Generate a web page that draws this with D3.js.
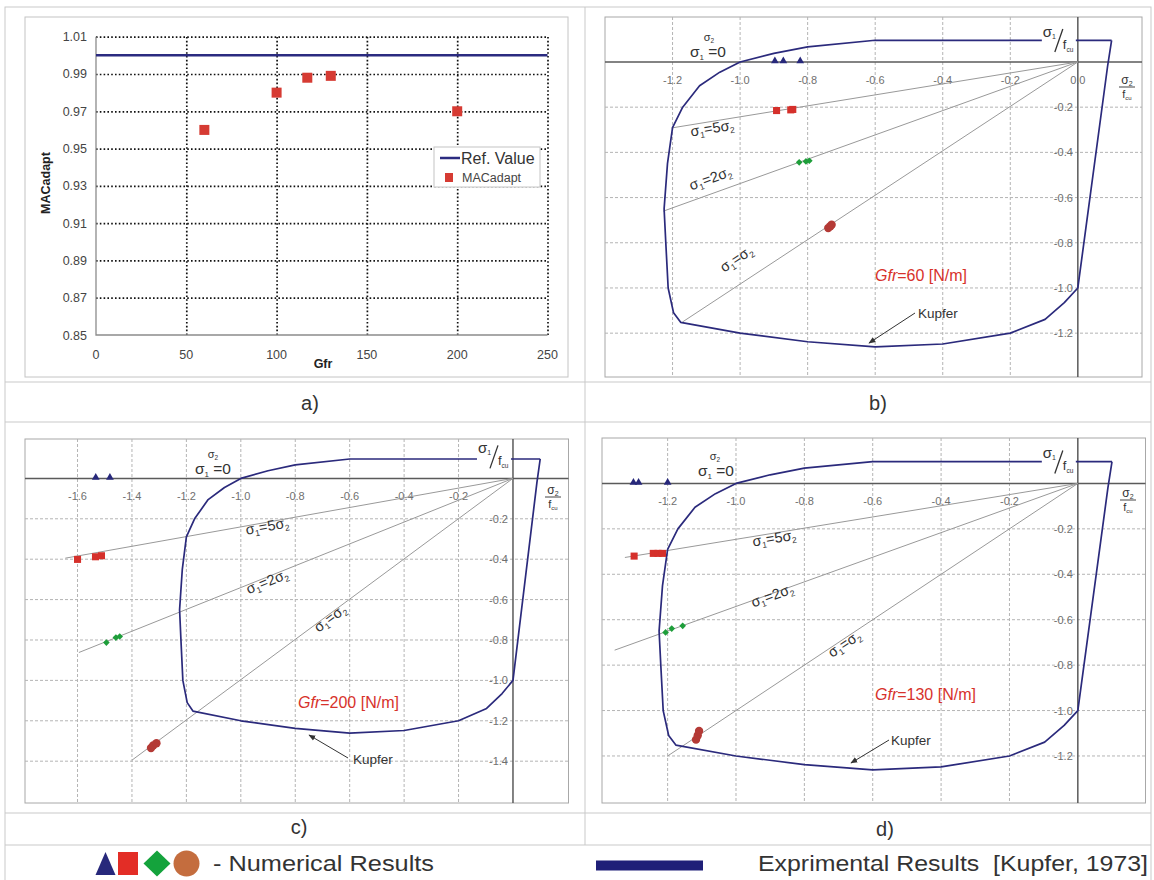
<!DOCTYPE html>
<html>
<head>
<meta charset="utf-8">
<title>MACadapt vs Gfr and Kupfer envelopes</title>
<script src="https://cdnjs.cloudflare.com/ajax/libs/d3/7.8.5/d3.min.js"></script>
<style>
    body { margin: 0; background: #fff; }
    svg { display: block; font-family: "Liberation Sans", Arial, sans-serif; }
    .grid-a line { stroke: #111; stroke-width: 1.7; stroke-dasharray: 1.6,2.2; }
    .grid-k line { stroke: #b4b4b4; stroke-width: 1; stroke-dasharray: 3,2; }
    .tick-a { font-size: 12.5px; fill: #444; }
    .tick-k { font-size: 11px; fill: #6f6f6f; }
    .lbl { fill: #333; }
</style>
</head>
<body>
<svg id="fig" width="1154" height="880"></svg>
<script>
// ---- panel a) data
const gfr = [60, 100, 117, 130, 200];
const macAdapt = [0.960, 0.980, 0.988, 0.989, 0.970];
const refValue = 1.0;
const gfrTicks = [0, 50, 100, 150, 200, 250];
const macTicks = [0.85, 0.87, 0.89, 0.91, 0.93, 0.95, 0.97, 0.99, 1.01];

// ---- Kupfer envelope, [sigma2/fcu, sigma1/fcu]
const kupfer = [
    [0.100, 0.096], [-0.600, 0.096], [-0.800, 0.067], [-0.900, 0.038], [-1.000, 0.000],
    [-1.060, -0.045], [-1.120, -0.105], [-1.170, -0.200], [-1.200, -0.290], [-1.215, -0.450],
    [-1.225, -0.650], [-1.220, -0.800], [-1.213, -1.000], [-1.197, -1.110], [-1.176, -1.152],
    [-1.000, -1.200], [-0.800, -1.238], [-0.600, -1.261], [-0.400, -1.248], [-0.200, -1.200],
    [-0.097, -1.139], [-0.040, -1.065], [0.000, -1.000], [0.088, -0.020], [0.100, 0.096]
];

// ---- numerical results, [sigma2/fcu, sigma1/fcu]
const tri60 = [[-0.897, 0.0], [-0.872, 0.0], [-0.822, 0.0]];
const sq60 = [[-0.892, -0.215], [-0.850, -0.212], [-0.844, -0.210]];
const dia60 = [[-0.825, -0.444], [-0.805, -0.440], [-0.795, -0.437]];
const circ60 = [[-0.739, -0.735], [-0.733, -0.727], [-0.729, -0.720]];
const rays60 = [[-1.203, -0.292], [-1.227, -0.660], [-1.170, -1.150]];

const tri200 = [[-1.533, 0.0], [-1.481, 0.0]];
const sq200 = [[-1.600, -0.401], [-1.534, -0.388], [-1.512, -0.383]];
const dia200 = [[-1.494, -0.813], [-1.459, -0.788], [-1.445, -0.783]];
const circ200 = [[-1.330, -1.335], [-1.322, -1.322], [-1.310, -1.311]];
const rays200 = [[-1.645, -0.395], [-1.595, -0.862], [-1.400, -1.395]];

const tri130 = [[-1.300, 0.0], [-1.285, 0.0], [-1.200, 0.0]];
const sq130 = [[-1.298, -0.320], [-1.242, -0.308], [-1.228, -0.308], [-1.215, -0.308]];
const dia130 = [[-1.206, -0.656], [-1.188, -0.639], [-1.156, -0.627]];
const circ130 = [[-1.117, -1.128], [-1.112, -1.110], [-1.108, -1.090]];
const rays130 = [[-1.325, -0.326], [-1.355, -0.734], [-1.200, -1.200]];

const xTicksB = [-1.2, -1.0, -0.8, -0.6, -0.4, -0.2, 0.0];
const xTicksC = [-1.6, -1.4, -1.2, -1.0, -0.8, -0.6, -0.4, -0.2];
const xTicksD = [-1.2, -1.0, -0.8, -0.6, -0.4, -0.2];
const yTicksB = [-0.2, -0.4, -0.6, -0.8, -1.0, -1.2];
const yTicksC = [-0.2, -0.4, -0.6, -0.8, -1.0, -1.2, -1.4];

const rayNames = [
    [["σ"], ["1", 1], ["=5σ"], ["2", 1]],
    [["σ"], ["1", 1], ["=2σ"], ["2", 1]],
    [["σ"], ["1", 1], ["=σ"], ["2", 1]]
];

const navy = "#27287b", red = "#d5302b", green = "#1e9e3a", brown = "#b43a36";

const svg = d3.select("#fig");

// text with subscripts
function rich(text, parts, subSize, shift) {
    let cur = 0;
    parts.forEach(([t, sub]) => {
        const target = sub ? shift : 0;
        const ts = text.append("tspan").text(t).attr("dy", target - cur);
        if (sub) ts.attr("font-size", subSize);
        cur = target;
    });
}

svg.append("defs").append("marker")
    .attr("id", "arr").attr("viewBox", "0 0 10 10")
    .attr("refX", 9).attr("refY", 5)
    .attr("markerWidth", 7).attr("markerHeight", 7)
    .attr("orient", "auto")
    .append("path").attr("d", "M0,1 L10,5 L0,9 z").attr("fill", "#333");

// ---- table frame
const frame = svg.append("g").attr("stroke", "#c9c9c9").attr("fill", "none");
frame.append("rect").attr("x", 5).attr("y", 7).attr("width", 1146).attr("height", 900);
[382, 422, 813, 845].forEach(y =>
    frame.append("line").attr("x1", 5).attr("x2", 1151).attr("y1", y).attr("y2", y));
frame.append("line").attr("x1", 585).attr("x2", 585).attr("y1", 7).attr("y2", 845);

[["a)", 310, 410], ["b)", 878, 410], ["c)", 299, 834], ["d)", 885, 836]].forEach(([t, x, y]) =>
    svg.append("text").attr("x", x).attr("y", y).attr("text-anchor", "middle")
        .attr("font-size", 20).attr("fill", "#333").text(t));

// ================= panel a
(function () {
    const g = svg.append("g");
    g.append("rect").attr("x", 25).attr("y", 17).attr("width", 543).attr("height", 360)
        .attr("fill", "#fff").attr("stroke", "#c4c4c4");

    const x = d3.scaleLinear().domain([0, 250]).range([96, 547.5]);
    const y = d3.scaleLinear().domain([0.85, 1.01]).range([335, 36.7]);
    const w = x(250) - x(0), h = y(0.85) - y(1.01);

    g.append("g").attr("class", "grid-a")
        .attr("transform", `translate(0,${y(0.85)})`)
        .call(d3.axisBottom(x).tickValues(gfrTicks.slice(1)).tickSize(-h).tickFormat(""))
        .call(s => s.select(".domain").remove());
    g.append("g").attr("class", "grid-a")
        .attr("transform", `translate(${x(0)},0)`)
        .call(d3.axisLeft(y).tickValues(macTicks.slice(1)).tickSize(-w).tickFormat(""))
        .call(s => s.select(".domain").remove());

    g.append("path").attr("fill", "none").attr("stroke", "#8c8c8c").attr("stroke-width", 1.3)
        .attr("d", `M${x(0)},${y(1.01)}V${y(0.85)}H${x(250)}`);

    g.selectAll(".ty").data(macTicks).join("text").attr("class", "tick-a")
        .attr("x", x(0) - 9).attr("y", d => y(d) + 4.5).attr("text-anchor", "end")
        .text(d => d.toFixed(2));
    g.selectAll(".tx").data(gfrTicks).join("text").attr("class", "tick-a")
        .attr("x", d => x(d)).attr("y", 359).attr("text-anchor", "middle")
        .text(d => d);

    g.append("text").attr("transform", "translate(50,183) rotate(-90)")
        .attr("text-anchor", "middle").attr("font-size", 12.5).attr("font-weight", "bold")
        .attr("fill", "#222").text("MACadapt");
    g.append("text").attr("x", 323).attr("y", 368).attr("text-anchor", "middle")
        .attr("font-size", 12.5).attr("font-weight", "bold").attr("fill", "#222").text("Gfr");

    g.append("line").attr("x1", x(0)).attr("x2", x(250))
        .attr("y1", y(refValue)).attr("y2", y(refValue))
        .attr("stroke", "#2b2b80").attr("stroke-width", 2.5);

    g.selectAll(".pt").data(gfr).join("rect")
        .attr("x", (d) => x(d) - 5).attr("y", (d, i) => y(macAdapt[i]) - 5)
        .attr("width", 10).attr("height", 10).attr("fill", "#d63b33");

    // legend
    const lg = g.append("g");
    lg.append("rect").attr("x", 434).attr("y", 147).attr("width", 106).attr("height", 40)
        .attr("fill", "#fff").attr("stroke", "#c4c4c4");
    lg.append("line").attr("x1", 440).attr("x2", 460).attr("y1", 158).attr("y2", 158)
        .attr("stroke", "#2b2b80").attr("stroke-width", 2.5);
    lg.append("text").attr("x", 461).attr("y", 164).attr("font-size", 16).attr("fill", "#333")
        .text("Ref. Value");
    lg.append("rect").attr("x", 445).attr("y", 173).attr("width", 8).attr("height", 9)
        .attr("fill", "#d63b33");
    lg.append("text").attr("x", 462).attr("y", 182).attr("font-size", 12.5).attr("fill", "#444")
        .text("MACadapt");
})();

// ================= panels b, c, d
const panels = [
    {
        gfr: 60, tri: tri60, sq: sq60, dia: dia60, circ: circ60, rays: rays60,
        box: [605, 17, 1142, 377], xDomain: [-1.40, 0.19], yDomain: [-1.394, 0.199],
        xTicks: xTicksB, yTicks: yTicksB,
        rayLabels: [[713, 133], [712, 183], [739, 263]],
        gfrPos: [875, 281], kupfer: [918, 318, 915, 313, 869, 343],
        zeroLbl: [709, 41, 708, 57], frac: [1127, 87]
    },
    {
        gfr: 200, tri: tri200, sq: sq200, dia: dia200, circ: circ200, rays: rays200,
        box: [25, 439, 568.5, 803], xDomain: [-1.793, 0.204], yDomain: [-1.607, 0.195],
        xTicks: xTicksC, yTicks: yTicksC,
        rayLabels: [[268, 531], [269, 586], [333, 622]],
        gfrPos: [298, 708], kupfer: [353, 764, 348, 758, 309, 735],
        zeroLbl: [213, 458, 213, 474], frac: [553, 497]
    },
    {
        gfr: 130, tri: tri130, sq: sq130, dia: dia130, circ: circ130, rays: rays130,
        box: [602, 438, 1145.5, 803], xDomain: [-1.392, 0.198], yDomain: [-1.407, 0.2],
        xTicks: xTicksD, yTicks: yTicksB,
        rayLabels: [[775, 543], [774, 600], [847, 648]],
        gfrPos: [875, 700], kupfer: [891, 745, 889, 740, 851, 763],
        zeroLbl: [715, 460, 716, 476], frac: [1128, 500]
    }
];

panels.forEach(p => {
    const [bx0, by0, bx1, by1] = p.box;
    const x = d3.scaleLinear().domain(p.xDomain).range([bx0, bx1]);
    const y = d3.scaleLinear().domain(p.yDomain).range([by1, by0]);
    const ox = x(0), oy = y(0);
    const g = svg.append("g");

    g.append("rect").attr("x", bx0).attr("y", by0).attr("width", bx1 - bx0).attr("height", by1 - by0)
        .attr("fill", "#fff").attr("stroke", "#a8a8a8");

    const grid = g.append("g").attr("class", "grid-k");
    grid.selectAll(".gv").data(p.xTicks.filter(d => d !== 0)).join("line")
        .attr("x1", d => x(d)).attr("x2", d => x(d)).attr("y1", by0).attr("y2", by1);
    grid.selectAll(".gh").data(p.yTicks).join("line")
        .attr("x1", bx0).attr("x2", bx1).attr("y1", d => y(d)).attr("y2", d => y(d));

    // axes
    g.append("line").attr("x1", bx0).attr("x2", bx1).attr("y1", oy).attr("y2", oy)
        .attr("stroke", "#5a5a5a").attr("stroke-width", 1.5);
    g.append("line").attr("x1", ox).attr("x2", ox).attr("y1", by0).attr("y2", by1)
        .attr("stroke", "#5a5a5a").attr("stroke-width", 1.5);

    g.selectAll(".tx").data(p.xTicks).join("text").attr("class", "tick-k")
        .attr("x", d => x(d)).attr("y", oy + 22).attr("text-anchor", "middle")
        .text(d => d.toFixed(1));
    g.selectAll(".ty").data(p.yTicks).join("text").attr("class", "tick-k")
        .attr("x", ox - 5).attr("y", d => y(d) + 4).attr("text-anchor", "end")
        .text(d => d.toFixed(1));

    // loading rays
    g.selectAll(".ray").data(p.rays).join("line")
        .attr("x1", ox).attr("y1", oy).attr("x2", d => x(d[0])).attr("y2", d => y(d[1]))
        .attr("stroke", "#999").attr("stroke-width", 1);

    p.rays.forEach((r, i) => {
        const ang = Math.atan2(y(r[1]) - oy, x(r[0]) - ox) * 180 / Math.PI - 180;
        const [cx, cy] = p.rayLabels[i];
        const t = g.append("text").attr("class", "lbl")
            .attr("transform", `translate(${cx},${cy}) rotate(${ang})`)
            .attr("text-anchor", "middle").attr("dy", "0.35em").attr("font-size", 14.5);
        rich(t, rayNames[i], 8.5, 3);
    });

    // Kupfer envelope
    g.append("path").datum(kupfer)
        .attr("fill", "none").attr("stroke", "#2b2a7c").attr("stroke-width", 1.7)
        .attr("stroke-linejoin", "round")
        .attr("d", d3.line().x(d => x(d[0])).y(d => y(d[1])));

    // sigma1/fcu label on the envelope
    g.append("rect").attr("x", ox - 36).attr("y", oy - 36).attr("width", 34).attr("height", 27)
        .attr("fill", "#fff");
    const s1 = g.append("text").attr("class", "lbl").attr("x", ox - 35).attr("y", oy - 25)
        .attr("font-size", 15);
    rich(s1, [["σ"], ["1", 1]], 7, 2);
    g.append("line").attr("x1", ox - 23).attr("y1", oy - 10).attr("x2", ox - 15).attr("y2", oy - 33)
        .attr("stroke", "#333").attr("stroke-width", 1.3);
    const f1 = g.append("text").attr("class", "lbl").attr("x", ox - 15).attr("y", oy - 13)
        .attr("font-size", 13);
    rich(f1, [["f"], ["cu", 1]], 6.5, 3);

    // sigma2/fcu fraction at the right
    const [fx, fy] = p.frac;
    const s2 = g.append("text").attr("class", "lbl").attr("x", fx).attr("y", fy - 3)
        .attr("text-anchor", "middle").attr("font-size", 12);
    rich(s2, [["σ"], ["2", 1]], 7, 2);
    g.append("line").attr("x1", fx - 8).attr("x2", fx + 8).attr("y1", fy).attr("y2", fy)
        .attr("stroke", "#444");
    const f2 = g.append("text").attr("class", "lbl").attr("x", fx).attr("y", fy + 11)
        .attr("text-anchor", "middle").attr("font-size", 11);
    rich(f2, [["f"], ["cu", 1]], 6, 2);

    // sigma2 / sigma1=0 label
    const [zx1, zy1, zx2, zy2] = p.zeroLbl;
    const z1 = g.append("text").attr("class", "lbl").attr("x", zx1).attr("y", zy1)
        .attr("text-anchor", "middle").attr("font-size", 11).attr("fill", "#555");
    rich(z1, [["σ"], ["2", 1]], 6.5, 2);
    const z2 = g.append("text").attr("class", "lbl").attr("x", zx2).attr("y", zy2)
        .attr("text-anchor", "middle").attr("font-size", 15.5);
    rich(z2, [["σ"], ["1", 1], [" =0"]], 8, 3);

    // Gfr label
    const gt = g.append("text").attr("x", p.gfrPos[0]).attr("y", p.gfrPos[1])
        .attr("font-size", 16).attr("fill", "#d7322b");
    gt.append("tspan").attr("font-style", "italic").text("Gfr");
    gt.append("tspan").text(`=${p.gfr} [N/m]`);

    // Kupfer arrow
    const k = p.kupfer;
    g.append("text").attr("class", "lbl").attr("x", k[0]).attr("y", k[1])
        .attr("font-size", 13.5).text("Kupfer");
    g.append("line").attr("x1", k[2]).attr("y1", k[3]).attr("x2", k[4]).attr("y2", k[5])
        .attr("stroke", "#333").attr("stroke-width", 1).attr("marker-end", "url(#arr)");

    // numerical results
    g.selectAll(".tri").data(p.tri).join("path")
        .attr("transform", d => `translate(${x(d[0])},${y(d[1]) - 1})`)
        .attr("d", d3.symbol(d3.symbolTriangle, 26)).attr("fill", navy);
    g.selectAll(".sq").data(p.sq).join("path")
        .attr("transform", d => `translate(${x(d[0])},${y(d[1])})`)
        .attr("d", d3.symbol(d3.symbolSquare, 50)).attr("fill", red);
    g.selectAll(".dia").data(p.dia).join("path")
        .attr("transform", d => `translate(${x(d[0])},${y(d[1])}) rotate(45)`)
        .attr("d", d3.symbol(d3.symbolSquare, 22)).attr("fill", green);
    g.selectAll(".circ").data(p.circ).join("path")
        .attr("transform", d => `translate(${x(d[0])},${y(d[1])})`)
        .attr("d", d3.symbol(d3.symbolCircle, 55)).attr("fill", brown);
});

// ================= bottom legend
(function () {
    const g = svg.append("g");
    g.append("path").attr("d", "M95.5,875 L105.5,852 L115.5,875 Z").attr("fill", navy);
    g.append("rect").attr("x", 118).attr("y", 852).attr("width", 20).attr("height", 23).attr("fill", "#e32d26");
    g.append("path").attr("d", "M157,850.5 L170.5,863.5 L157,876.5 L143.5,863.5 Z").attr("fill", "#14a33c");
    g.append("ellipse").attr("cx", 186.5).attr("cy", 863.5).attr("rx", 13).attr("ry", 13).attr("fill", "#c46d3e");
    g.append("text").attr("x", 213).attr("y", 871).attr("font-size", 22).attr("fill", "#333")
        .attr("textLength", 221).attr("lengthAdjust", "spacingAndGlyphs").text("- Numerical Results");
    g.append("rect").attr("x", 596).attr("y", 860.5).attr("width", 107).attr("height", 10).attr("fill", "#1f1f78");
    g.append("text").attr("x", 758).attr("y", 871).attr("font-size", 22).attr("fill", "#333")
        .attr("textLength", 390).attr("lengthAdjust", "spacingAndGlyphs")
        .attr("xml:space", "preserve").text("Exprimental Results  [Kupfer, 1973]");
})();
</script>
</body>
</html>
